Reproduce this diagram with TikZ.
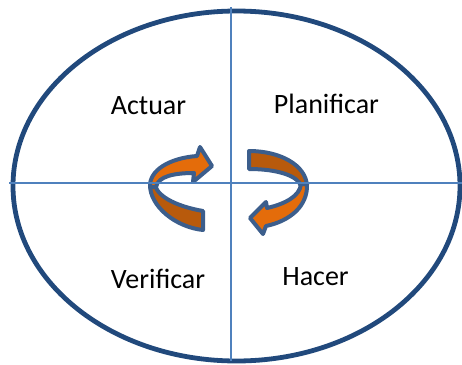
\documentclass[tikz,border=0pt]{standalone}
\usepackage{fontspec}
\setmainfont{Carlito}
\usepackage{xcolor}

\definecolor{ringblue}{HTML}{21497C}
\definecolor{axisblue}{HTML}{4F81BD}
\definecolor{bandline}{HTML}{3C5E8C}
\definecolor{frontorange}{HTML}{E46C0A}
\definecolor{backorange}{HTML}{B85A0C}

\begin{document}
\begin{tikzpicture}[x=1pt,y=-1pt,
  band/.style={draw=bandline,line width=4pt,line join=round},
  axis/.style={axisblue,line width=1.3pt},
  phase/.style={font=\fontsize{28}{34}\selectfont,inner sep=0pt,anchor=base}]
\useasboundingbox (0,0) rectangle (462,364);

% Outer ellipse
\draw[ringblue,line width=4.8pt] (236.5,186) ellipse (223.5 and 175);

% Left arrow, inner face
\filldraw[band,fill=backorange] (203,211) .. controls (180,207) and (158,198) .. (155,185)
  -- (150,185) .. controls (150,206) and (175,227) .. (203,230) -- cycle;
% Left arrow, front face with head
\filldraw[band,fill=frontorange] (150,187) .. controls (149,170) and (170,158) .. (197,156)
  -- (200,147) -- (212,166) -- (193,182) -- (194,173)
  .. controls (175,173) and (158,176) .. (156,187) -- cycle;

% Right arrow, inner face
\filldraw[band,fill=backorange] (249,151) .. controls (280,151) and (306,165) .. (307,186)
  -- (301,186) .. controls (298,176) and (278,169) .. (249,169) -- cycle;
% Right arrow, front face with head
\filldraw[band,fill=frontorange] (307,184) .. controls (308,206) and (290,221) .. (266,226)
  -- (263,234) -- (250,218) -- (266,202) -- (267,208)
  .. controls (285,204) and (300,196) .. (301,184) -- cycle;

% Quadrant lines
\draw[axis] (231,7) -- (231,361);
\draw[axis] (9,183) -- (462,183);

% Labels
\node[phase] (actuar) at (148.5,114) {Actuar};
\node[phase] (planificar) at (326.5,113) {Planificar};
\node[phase] (verificar) at (158,288) {Verificar};
\node[phase] (hacer) at (315.5,285) {Hacer};

\end{tikzpicture}
\end{document}
